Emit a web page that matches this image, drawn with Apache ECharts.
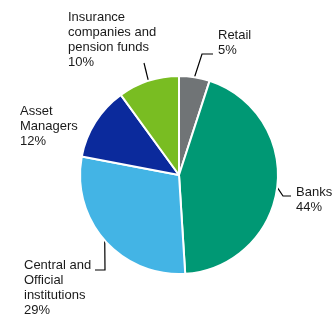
<!DOCTYPE html>
<html>
<head>
<meta charset="utf-8">
<script src="https://cdn.jsdelivr.net/npm/echarts@6/dist/echarts.min.js"></script>
<style>
html,body{margin:0;padding:0;background:#fff;}
#c{width:332px;height:314px;}
</style>
</head>
<body>
<div id="c"></div>
<script>
// ---- data ----
var categories = ['Retail', 'Banks', 'Central and\nOfficial\ninstitutions', 'Asset\nManagers', 'Insurance\ncompanies and\npension funds'];
var shares = [5, 44, 29, 12, 10];
var colors = ['#707476', '#009874', '#43b4e5', '#0b2a9c', '#79bd22'];
var showLine = [true, true, true, false, true];

// ---- label layout (positions of text blocks and leader-line bends, px) ----
var labelPos = [
  [218, 28],
  [296, 185],
  [24, 258],
  [20, 104],
  [68, 10]
];
var guideBend = [
  [[202, 54], [213, 54]],
  [[283, 196], [291, 196]],
  [[105, 270], [95, 270]],
  null,
  [[144, 63], [144, 63]]
];

var chart = echarts.init(document.getElementById('c'), null, {renderer: 'canvas'});
var data = categories.map(function (c, i) {
  return {
    name: c,
    value: shares[i],
    itemStyle: {color: colors[i]},
    labelLine: {show: showLine[i]}
  };
});
chart.setOption({
  animation: false,
  series: [{
    type: 'pie',
    center: [179, 175],
    radius: 99,
    startAngle: 90,
    clockwise: true,
    avoidLabelOverlap: false,
    itemStyle: {borderColor: '#fff', borderWidth: 2},
    label: {
      show: true,
      position: 'outside',
      formatter: function (p) { return p.name + '\n' + p.value + '%'; },
      fontFamily: 'Liberation Sans, Arial, sans-serif',
      fontSize: 13,
      lineHeight: 15,
      color: '#1a1a1a',
      align: 'left'
    },
    labelLine: {
      show: true,
      length: 10,
      length2: 8,
      lineStyle: {color: '#000', width: 1.2}
    },
    labelLayout: function (p) {
      var i = p.dataIndex;
      var pos = labelPos[i];
      var res = {x: pos[0], y: pos[1], align: 'left', verticalAlign: 'top'};
      var bend = guideBend[i];
      if (bend && p.labelLinePoints) {
        res.labelLinePoints = [p.labelLinePoints[0].slice(), bend[0], bend[1]];
      }
      return res;
    },
    data: data
  }]
});
</script>
</body>
</html>
